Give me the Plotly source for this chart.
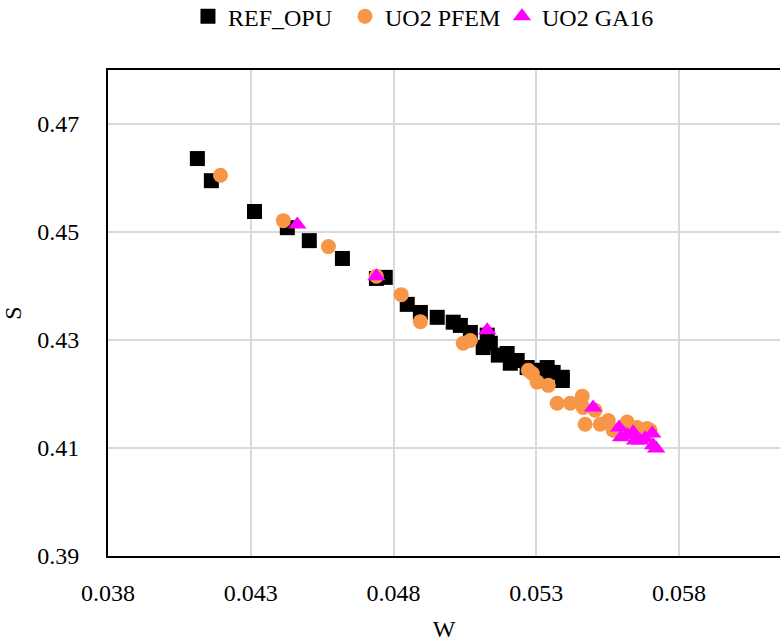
import plotly.graph_objects as go

# REF_OPU
ref_w = [0.04113, 0.04162, 0.04313, 0.04428, 0.04505, 0.04621, 0.04740, 0.04771,
         0.04848, 0.04894, 0.04953, 0.05009, 0.05034, 0.05069, 0.05128, 0.05139,
         0.05114, 0.05167, 0.05198, 0.05209, 0.05233, 0.05268, 0.05303, 0.05338,
         0.05359, 0.05391, 0.05391, 0.05324]
ref_s = [0.4636, 0.4595, 0.4538, 0.4508, 0.4484, 0.4451, 0.4414, 0.4416,
         0.4366, 0.4351, 0.4342, 0.4333, 0.4327, 0.4314, 0.4309, 0.4294,
         0.4286, 0.4272, 0.4275, 0.4257, 0.4262, 0.4249, 0.4244, 0.4249,
         0.4240, 0.4231, 0.4225, 0.4231]

# UO2 PFEM
pfem_w = [0.04194, 0.04414, 0.04572, 0.04740, 0.04827, 0.04894, 0.05044, 0.05069,
          0.05272, 0.05286, 0.05303, 0.05342, 0.05373, 0.05419, 0.05461, 0.05464,
          0.05506, 0.05471, 0.05524, 0.05552, 0.05569, 0.05618, 0.05653, 0.05688,
          0.05699]
pfem_s = [0.4605, 0.4521, 0.4473, 0.4418, 0.4384, 0.4334, 0.4294, 0.4299,
          0.4244, 0.4238, 0.4222, 0.4216, 0.4183, 0.4183, 0.4196, 0.4175,
          0.4170, 0.4144, 0.4144, 0.4151, 0.4133, 0.4148, 0.4138, 0.4136,
          0.4133]

# UO2 GA16
ga_w = [0.04463, 0.04740, 0.05128, 0.05499, 0.05590, 0.05597, 0.05618, 0.05639,
        0.05646, 0.05664, 0.05681, 0.05706, 0.05709, 0.05720]
ga_s = [0.4514, 0.4418, 0.4318, 0.4175, 0.4138, 0.4120, 0.4124, 0.4129,
        0.4114, 0.4114, 0.4118, 0.4127, 0.4105, 0.4099]

x_ticks = [0.038, 0.043, 0.048, 0.053, 0.058]
y_ticks = [0.39, 0.41, 0.43, 0.45, 0.47]

FONT = "Times New Roman"

fig = go.Figure()
fig.add_trace(go.Scatter(x=ref_w, y=ref_s, mode="markers", name="REF_OPU",
                         marker=dict(symbol="square", size=15, color="black")))
fig.add_trace(go.Scatter(x=pfem_w, y=pfem_s, mode="markers", name="UO2 PFEM",
                         marker=dict(symbol="circle", size=15, color="#F79646")))
fig.add_trace(go.Scatter(x=ga_w, y=ga_s, mode="markers", name="UO2 GA16",
                         marker=dict(symbol="triangle-up", size=16, color="#FF00FF")))

fig.update_layout(
    width=780, height=642,
    margin=dict(l=108, r=0, t=70, b=86, autoexpand=False),
    paper_bgcolor="white", plot_bgcolor="white",
    font=dict(family=FONT, size=24, color="black"),
    legend=dict(orientation="h", x=0.119, xanchor="left", y=0.974, yanchor="middle",
                yref="container", font=dict(family=FONT, size=24),
                entrywidth=112, entrywidthmode="pixels", tracegroupgap=0),
    xaxis=dict(range=[0.038, 0.061535], tickvals=x_ticks, tickformat=".3f",
               showgrid=True, gridcolor="#d9d9d9", gridwidth=2,
               showline=True, linecolor="black", linewidth=2, mirror=True,
               zeroline=False, ticks="", ticklabelstandoff=14, automargin=False,
               title=dict(text="W", standoff=16, font=dict(family=FONT, size=24))),
    yaxis=dict(range=[0.39, 0.48], tickvals=y_ticks, tickformat=".2f",
               showgrid=True, gridcolor="#d9d9d9", gridwidth=2,
               showline=True, linecolor="black", linewidth=2,
               zeroline=False, ticks="", ticklabelstandoff=22, automargin=False,
               title=dict(text="S", standoff=14, font=dict(family=FONT, size=24))),
)

fig.write_html("out.html", config={"displayModeBar": False},
               post_script="document.body.style.margin='0';document.body.style.overflow='hidden';")
